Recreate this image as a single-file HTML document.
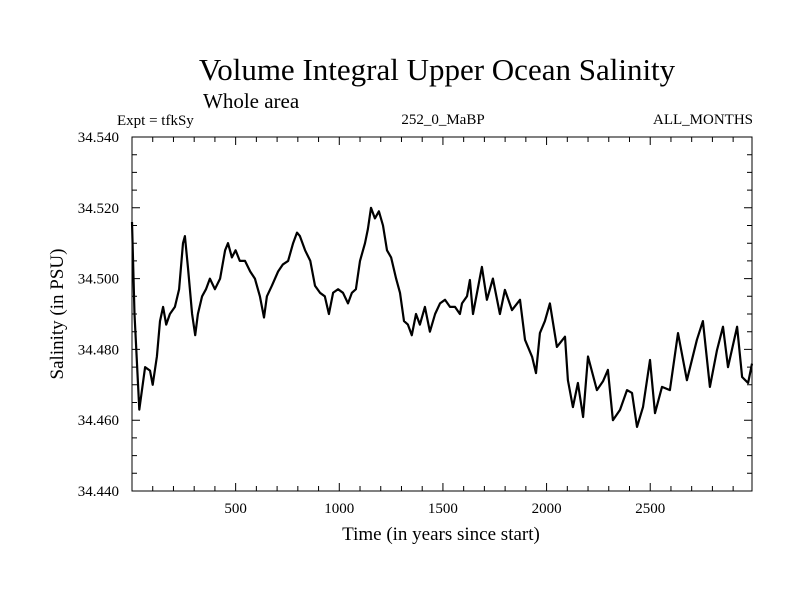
<!DOCTYPE html>
<html><head><meta charset="utf-8"><style>
body{margin:0;background:#fff;width:800px;height:600px;overflow:hidden}
svg text{font-family:"Liberation Serif",serif;fill:#000}
</style></head><body>
<svg id="chart" width="800" height="600" viewBox="0 0 800 600">
<text x="437" y="80" font-size="31" text-anchor="middle">Volume Integral Upper Ocean Salinity</text>
<text x="203" y="108" font-size="21">Whole area</text>
<text x="117" y="125" font-size="15">Expt = tfkSy</text>
<text x="443" y="124" font-size="15" text-anchor="middle">252_0_MaBP</text>
<text x="753" y="124" font-size="15" text-anchor="end">ALL_MONTHS</text>
<text x="441" y="540" font-size="19" text-anchor="middle">Time (in years since start)</text>
<text transform="translate(63,314) rotate(-90)" font-size="19" text-anchor="middle">Salinity (in PSU)</text>
<g id="axes"></g>
<g id="series"></g>
</svg>
<script>
const years=[0,12,35,63,87,100,120,135,150,165,183,207,227,246,255,270,290,305,318,338,357,376,400,425,449,463,482,500,520,545,570,593,617,637,651,675,705,728,753,777,796,810,835,860,883,907,930,950,970,994,1018,1042,1061,1080,1100,1124,1138,1153,1172,1191,1211,1230,1250,1274,1293,1312,1331,1350,1370,1389,1413,1437,1462,1486,1510,1534,1558,1582,1592,1616,1630,1645,1688,1712,1741,1775,1799,1833,1872,1896,1930,1949,1968,1992,2016,2050,2089,2103,2127,2151,2176,2200,2243,2272,2296,2320,2354,2388,2412,2436,2465,2499,2523,2557,2595,2634,2677,2725,2754,2788,2822,2851,2875,2919,2943,2972,2991];
const salinity=[34.516,34.490,34.463,34.475,34.474,34.470,34.478,34.488,34.492,34.487,34.490,34.492,34.497,34.510,34.512,34.503,34.490,34.484,34.490,34.495,34.497,34.500,34.497,34.500,34.508,34.510,34.506,34.508,34.505,34.505,34.502,34.500,34.495,34.489,34.495,34.498,34.502,34.504,34.505,34.510,34.513,34.512,34.508,34.505,34.498,34.496,34.495,34.490,34.496,34.497,34.496,34.493,34.496,34.497,34.505,34.510,34.514,34.520,34.517,34.519,34.515,34.508,34.506,34.500,34.496,34.488,34.487,34.484,34.490,34.487,34.492,34.485,34.490,34.493,34.494,34.492,34.492,34.490,34.493,34.495,34.4996,34.490,34.5033,34.494,34.500,34.490,34.4968,34.4911,34.494,34.4827,34.4779,34.4733,34.4846,34.488,34.493,34.4807,34.4836,34.4713,34.4637,34.4705,34.4609,34.478,34.4685,34.471,34.4742,34.460,34.4629,34.4685,34.4677,34.4581,34.4637,34.477,34.462,34.4694,34.4685,34.4846,34.4713,34.4827,34.488,34.4694,34.4798,34.4864,34.475,34.4864,34.4722,34.4705,34.476];
const xMajor=[500,1000,1500,2000,2500];
const yMajor=[34.44,34.46,34.48,34.50,34.52,34.54];
const yLabels=["34.440","34.460","34.480","34.500","34.520","34.540"];
const L=132,R=752,T=137,B=491,X0=0,X1=2991,Y0=34.44,Y1=34.54;
const sx=v=>L+(v-X0)/(X1-X0)*(R-L);
const sy=v=>B-(v-Y0)/(Y1-Y0)*(B-T);
const NS="http://www.w3.org/2000/svg";
const ax=document.getElementById('axes');
function mk(t,a,p){const e=document.createElementNS(NS,t);for(const k in a)e.setAttribute(k,a[k]);p.appendChild(e);return e;}
const fr=mk('rect',{x:L,y:T,width:R-L,height:B-T,fill:'none',stroke:'#000','stroke-width':1},ax);


let tk='';
for(let v=100;v<X1;v+=100){const x=sx(v),len=(v%500===0)?8:5;tk+=`M${x},${B}v${-len}M${x},${T}v${len}`;}
for(let i=0;i<=20;i++){const v=Y0+i*0.005,y=sy(v),len=(i%4===0)?8:5;tk+=`M${L},${y}h${len}M${R},${y}h${-len}`;}
const tp=mk('path',{d:tk,stroke:'#000','stroke-width':1,fill:'none'},ax);


xMajor.forEach(v=>{const t=mk('text',{x:sx(v),y:B+22,'font-size':15,'text-anchor':'middle'},ax);t.textContent=v;

});
yMajor.forEach((v,i)=>{const t=mk('text',{x:119,y:sy(v)+5,'font-size':15,'text-anchor':'end'},ax);t.textContent=yLabels[i];

});
const d=years.map((y,i)=>(i?'L':'M')+sx(y).toFixed(1)+','+sy(salinity[i]).toFixed(1)).join('');
const ln=mk('path',{d:d,stroke:'#000','stroke-width':2.2,fill:'none','stroke-linejoin':'round'},document.getElementById('series'));


</script>
</body></html>
